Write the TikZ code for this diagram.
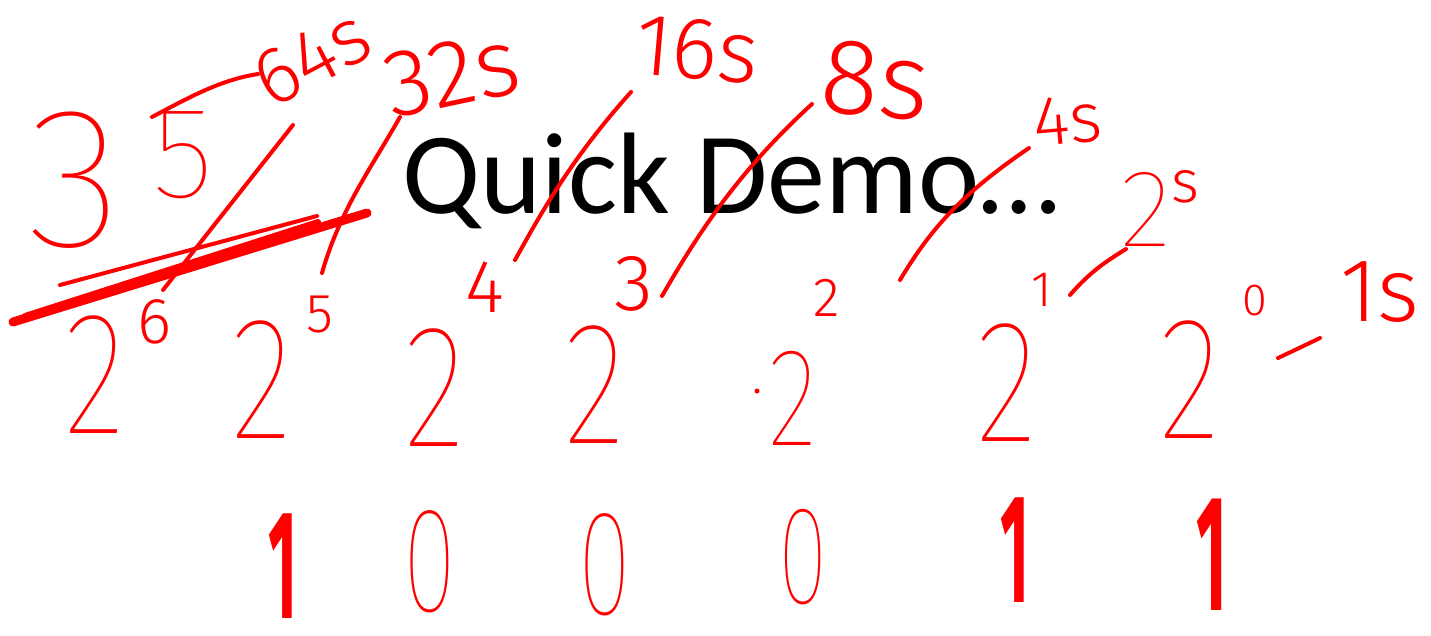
\documentclass[tikz,border=0pt]{standalone}
\usepackage{fontspec}
\setmainfont{Carlito}
\newfontfamily\handfont{Fira Sans Thin}
\newfontfamily\lighthandfont{Fira Sans Light}
\newfontfamily\bitfont{Fira Sans}
\usetikzlibrary{calc}
\definecolor{inkRed}{RGB}{255,0,0}
\newcommand\inkfont[1]{\handfont\fontsize{#1}{#1}\selectfont}
\newcommand\smallinkfont[1]{\lighthandfont\fontsize{#1}{#1}\selectfont}
\newcommand\bitsfont[1]{\bitfont\bfseries\fontsize{#1}{#1}\selectfont}

\begin{document}
\begin{tikzpicture}[x=1pt, y=-1pt,
    hand/.style={text=inkRed, inner sep=0pt, font=\inkfont{#1}},
    smallhand/.style={text=inkRed, inner sep=0pt, font=\smallinkfont{#1}},
    bitone/.style={text=inkRed, inner sep=0pt, xscale=.4, font=\bitsfont{#1}},
    ink/.style={draw=inkRed, line width=4pt, line cap=round, line join=round}]
    \useasboundingbox (0,0) rectangle (1431,635);

    \node[anchor=base, font=\fontsize{116}{116}\selectfont] (title) at (731,213) {Quick Demo…};

    \node[hand=200] (tot3) at (75,180) {3};
    \node[hand=130] (tot5) at (183,155) {5};
    \node[smallhand=80, rotate=28] (t64) at (312,58) {64s};
    \node[smallhand=95, rotate=12] (t32) at (452,74) {32s};
    \node[smallhand=88, rotate=-5] (t16) at (697,50) {16s};
    \node[smallhand=108, rotate=-5] (t8) at (876,80) {8s};
    \node[smallhand=70, rotate=5] (t4) at (1068,120) {4s};
    \node[hand=110] (t2) at (1160,208) {2\raisebox{.4em}{\smallinkfont{60}s}};
    \node[smallhand=90] (t1) at (1380,292) {1s};

    \node[hand=175, xscale=.75] (p6) at (95,375) {2};
    \node[hand=175, xscale=.75] (p5) at (262,380) {2};
    \node[hand=175, xscale=.75] (p4) at (435,388) {2};
    \node[hand=175, xscale=.75] (p3) at (595,385) {2};
    \node[hand=140, xscale=.75] (p2) at (793,398) {2};
    \node[hand=175, xscale=.75] (p1) at (1007,383) {2};
    \node[hand=175, xscale=.75] (p0) at (1190,380) {2};

    \node[smallhand=65] (e6) at (155,322) {6};
    \node[smallhand=55] (e5) at (320,315) {5};
    \node[smallhand=75] (e4) at (485,287) {4};
    \node[smallhand=80] (e3) at (634,284) {3};
    \node[smallhand=55] (e2) at (827,298) {2};
    \node[smallhand=50] (e1) at (1042,290) {1};
    \node[smallhand=45] (e0) at (1255,301) {0};

    \node[bitone=155] (b6) at (283,566) {1};
    \node[hand=150, xscale=.65] (b5) at (430,562) {0};
    \node[hand=150, xscale=.65] (b4) at (605,565) {0};
    \node[hand=140, xscale=.65] (b3) at (803,557) {0};
    \node[bitone=155] (b1) at (1015,550) {1};
    \node[bitone=165] (b0) at (1212,555) {1};

    \draw[ink] (152,117) .. controls (190,97) and (220,80) .. (258,74);
    \draw[ink] (293,125) -- (163,290);
    \draw[ink] (400,117) .. controls (370,170) and (340,210) .. (322,273);
    \draw[ink, line width=9pt] (13,322) -- (367,213);
    \draw[ink, line width=6pt] (25,316) -- (318,222);
    \draw[ink] (60,285) -- (317,216);
    \draw[ink] (631,92) .. controls (570,160) and (540,215) .. (515,260);
    \draw[ink] (812,104) .. controls (740,170) and (700,230) .. (662,296);
    \draw[ink] (1029,148) .. controls (960,195) and (930,230) .. (900,280);
    \draw[ink] (1070,295) .. controls (1090,272) and (1105,262) .. (1126,249);
    \draw[ink] (1278,358) .. controls (1295,350) .. (1320,338);
    \fill[inkRed] (757,391) circle (2.5);
\end{tikzpicture}
\end{document}
